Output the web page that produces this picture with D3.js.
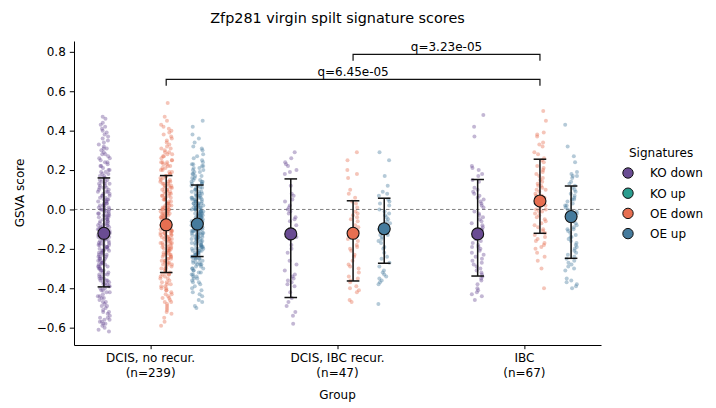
<!DOCTYPE html>
<html><head><meta charset="utf-8">
<script src="https://cdn.jsdelivr.net/npm/d3@7"></script>
<style>body{margin:0;background:#fff;} svg text{font-family:"DejaVu Sans",sans-serif;}</style>
</head><body><svg id="c" width="716" height="408"></svg>
<script>
const title = "Zfp281 virgin spilt signature scores";
const groups = ["DCIS, no recur.", "DCIS, IBC recur.", "IBC"];
const groupN = [239, 47, 67];
const signatures = ["KO down", "KO up", "OE down", "OE up"];
const sigColors = ["#6a4c93", "#2a9d8f", "#e76f51", "#457b9d"];
const yTicks = [-0.6, -0.4, -0.2, 0.0, 0.2, 0.4, 0.6, 0.8];

// GSVA scores per sample, in hundredths
const noRecurKOdown = [-62,-61,-60,-59,-58,-58,-57,-57,-56,-56,
-55,-55,-54,-53,-52,-52,-51,-50,-49,-49,-48,-47,-47,-46,
-45,-45,-44,-44,-43,-42,-42,-41,-41,-40,-40,-39,-39,-38,-38,-38,-37,-37,-36,-36,-36,
-35,-35,-35,-34,-34,-33,-33,-33,-32,-32,-31,-31,-31,-30,-30,-30,-29,-29,-29,-28,-28,-28,-27,-27,-27,-26,-26,-26,
-25,-25,-25,-24,-24,-24,-23,-23,-23,-22,-22,-22,-21,-21,-21,-21,-20,-20,-20,-19,-19,-19,-18,-18,-18,-18,-17,-17,-17,-16,-16,-16,
-15,-15,-15,-14,-14,-14,-14,-13,-13,-13,-12,-12,-12,-12,-11,-11,-11,-10,-10,-10,-10,-9,-9,-9,-8,-8,-8,-8,-7,-7,-7,-6,-6,-6,
-5,-5,-5,-4,-4,-4,-3,-3,-3,-3,-2,-2,-2,-1,-1,-1,0,0,0,0,1,1,1,2,2,2,3,3,3,4,4,4,
5,5,5,6,6,7,7,7,8,8,9,9,9,10,10,11,11,11,12,12,13,13,13,14,14,
15,15,16,16,17,17,18,18,19,19,20,20,21,22,22,23,24,24,
25,26,26,27,28,28,29,30,31,31,32,33,34,
35,36,37,38,39,40,41,42,43,44,46,47];
const noRecurKOup = [];
const noRecurOEdown = [-59,-57,-55,-53,-52,-51,-50,-49,-48,-47,-47,-46,
-45,-45,-44,-43,-43,-42,-41,-41,-40,-40,-39,-39,-38,-38,-37,-37,-36,
-35,-35,-34,-34,-33,-33,-33,-32,-32,-31,-31,-30,-30,-30,-29,-29,-28,-28,-28,-27,-27,-27,-26,-26,-26,
-25,-25,-25,-24,-24,-24,-23,-23,-23,-23,-22,-22,-22,-21,-21,-21,-20,-20,-20,-20,-19,-19,-19,-18,-18,-18,-17,-17,-17,-17,-16,-16,-16,
-15,-15,-15,-15,-14,-14,-14,-14,-13,-13,-13,-13,-12,-12,-12,-12,-11,-11,-11,-11,-10,-10,-10,-10,-9,-9,-9,-9,-8,-8,-8,-7,-7,-7,-7,-6,-6,-6,
-5,-5,-5,-5,-4,-4,-4,-4,-3,-3,-3,-3,-2,-2,-2,-2,-1,-1,-1,-1,0,0,0,0,1,1,1,1,2,2,2,3,3,3,4,4,
5,5,5,6,6,6,7,7,7,8,8,8,9,9,9,10,10,10,11,11,11,12,12,12,13,13,13,14,14,14,
15,15,16,16,17,17,18,18,19,19,20,20,21,21,22,22,23,23,24,24,24,
25,25,26,27,27,28,28,29,29,30,31,31,32,33,34,
35,36,37,38,39,40,41,42,43,45,47,54];
const noRecurOEup = [-50,-49,-47,-46,
-44,-43,-42,-41,-40,-39,-38,-37,-37,-36,
-35,-35,-34,-34,-33,-33,-32,-32,-31,-31,-30,-30,-30,-29,-29,-28,-28,-28,-27,-27,-27,-26,-26,
-25,-25,-25,-25,-24,-24,-24,-24,-23,-23,-23,-23,-22,-22,-22,-22,-21,-21,-21,-21,-20,-20,-20,-20,-19,-19,-19,-19,-18,-18,-18,-18,-17,-17,-17,-17,-16,-16,-16,-16,
-15,-15,-15,-15,-15,-14,-14,-14,-14,-14,-13,-13,-13,-13,-13,-12,-12,-12,-12,-12,-11,-11,-11,-11,-11,-10,-10,-10,-10,-10,-9,-9,-9,-9,-9,-8,-8,-8,-8,-8,-7,-7,-7,-7,-7,-6,-6,-6,-6,-6,
-5,-5,-5,-5,-4,-4,-4,-4,-4,-3,-3,-3,-3,-3,-2,-2,-2,-2,-2,-1,-1,-1,-1,-1,0,0,0,0,0,1,1,1,1,1,2,2,2,2,2,3,3,3,3,3,4,4,4,4,
5,5,5,5,6,6,6,6,7,7,7,7,8,8,8,9,9,9,10,10,10,11,11,11,12,12,12,13,13,13,14,14,14,
15,15,16,16,17,17,18,18,19,19,20,20,21,21,22,22,23,23,24,
25,26,27,28,30,31,32,34,
36,38,42,45];

const ibcRecurKOdown = [29,26,24,23,22,20,19,18,12,8,7,5,4,2,1,0,-1,-2,-4,-5,-6,-8,-10,-11,-12,-14,-15,-18,-20,-22,-26,-28,-31,-33,-34,-35,-36,-37,-38,-39,-42,-45,-47,-49,-52,-54,-58];
const ibcRecurKOup = [];
const ibcRecurOEdown = [29,25,20,18,16,10,8,6,4,3,1,-1,-2,-3,-4,-5,-6,-8,-9,-10,-11,-12,-13,-14,-15,-16,-18,-19,-20,-21,-23,-24,-26,-28,-29,-30,-32,-34,-35,-36,-37,-39,-40,-41,-42,-46,-47];
const ibcRecurOEup = [29,25,17,12,9,8,7,5,4,3,2,0,-1,-2,-3,-4,-5,-6,-7,-8,-9,-10,-10,-11,-12,-13,-13,-14,-15,-16,-17,-19,-20,-22,-24,-25,-27,-29,-31,-32,-33,-34,-35,-36,-37,-38,-48];

const ibcKOdown = [48,42,37,22,21,20,18,17,15,14,11,10,9,8,7,6,5,4,2,1,
-1,-2,-4,-5,-6,-7,-9,-10,-11,-12,-13,-14,-15,-16,-17,-18,-19,
-20,-21,-22,-23,-24,-25,-27,-28,-29,-30,-31,-32,-33,-34,-35,-36,
-38,-40,-41,-42,-43,-44,-46,-3,-8,-12,-15,-19,3,-26];
const ibcKOup = [];
const ibcOEdown = [50,45,39,38,37,34,33,32,29,28,26,25,24,22,21,20,19,18,17,16,
14,13,12,12,11,10,9,8,7,7,6,5,4,3,3,2,1,0,-1,-1,
-2,-3,-4,-5,-6,-7,-8,-9,-10,-11,-12,-13,-14,-15,-16,-17,-18,-19,-20,-22,
-24,-26,-30,-40,10,15,0];
const ibcOEup = [43,32,27,24,19,18,17,17,16,14,13,12,11,10,9,8,7,6,5,4,
3,2,1,0,-1,-2,-3,-4,-5,-6,-7,-8,-9,-10,-11,-12,-13,-14,-15,-16,
-17,-18,-19,-20,-21,-22,-23,-24,-25,-26,-27,-28,-29,-30,-31,-35,-36,-37,-38,-39,
-40,5,-2,-6,-10,2,-14];

// mean and mean ± SD per group
const meanKOdown = [-0.121, -0.124, -0.124];
const loKOdown   = [-0.393, -0.447, -0.338];
const hiKOdown   = [0.160, 0.155, 0.152];
const meanOEdown = [-0.078, -0.121, 0.043];
const loOEdown   = [-0.320, -0.363, -0.121];
const hiOEdown   = [0.172, 0.044, 0.255];
const meanOEup   = [-0.074, -0.098, -0.036];
const loOEup     = [-0.239, -0.273, -0.248];
const hiOEup     = [0.124, 0.057, 0.119];

// significance brackets (OE down)
const qLabels = ["q=6.45e-05", "q=3.23e-05"];
const qFrom = [0, 1];
const qTo = [2, 2];
const qLevel = [0.660, 0.787];

const scores = [
  [noRecurKOdown, noRecurKOup, noRecurOEdown, noRecurOEup],
  [ibcRecurKOdown, ibcRecurKOup, ibcRecurOEdown, ibcRecurOEup],
  [ibcKOdown, ibcKOup, ibcOEdown, ibcOEup]
];
const summary = [
  [meanKOdown, loKOdown, hiKOdown, 0],
  [meanOEdown, loOEdown, hiOEdown, 2],
  [meanOEup, loOEup, hiOEup, 3]
];

const svg = d3.select("#c");
const x = d3.scaleLinear().domain([-0.41, 2.41]).range([74, 601]);
const y = d3.scaleLinear().domain([-0.688, 0.855]).range([345, 41]);
const hueOff = d3.scalePoint().domain(signatures).range([-0.25, 0.25]);
const px = (g, s) => x(g + hueOff(s));

function jit(i, k) {
  const s = Math.sin((i + 1) * 12.9898 + k * 78.233) * 43758.5453;
  return (s - Math.floor(s)) * 2 - 1;
}

// zero line
svg.append("line").attr("x1", 74).attr("x2", 601)
  .attr("y1", y(0)).attr("y2", y(0))
  .attr("stroke", "#808080").attr("stroke-width", 1).attr("stroke-dasharray", "3.5,2.5");

// strip points
scores.forEach((row, g) => {
  row.forEach((vals, si) => {
    const cx0 = px(g, signatures[si]);
    svg.append("g").selectAll("circle").data(vals).join("circle")
      .attr("cx", (d, i) => cx0 + jit(i, g * 4 + si) * 6)
      .attr("cy", d => y(d / 100))
      .attr("r", 2)
      .attr("fill", sigColors[si])
      .attr("fill-opacity", 0.4);
  });
});

// error bars & means
summary.forEach(([m, lo, hi, si]) => {
  groups.forEach((gname, g) => {
    const cx = px(g, signatures[si]);
    const eg = svg.append("g").attr("stroke", "#111").attr("stroke-width", 1.5);
    eg.append("line").attr("x1", cx).attr("x2", cx).attr("y1", y(lo[g])).attr("y2", y(hi[g]));
    eg.append("line").attr("x1", cx - 6.3).attr("x2", cx + 6.3).attr("y1", y(lo[g])).attr("y2", y(lo[g]));
    eg.append("line").attr("x1", cx - 6.3).attr("x2", cx + 6.3).attr("y1", y(hi[g])).attr("y2", y(hi[g]));
    svg.append("circle").attr("cx", cx).attr("cy", y(m[g])).attr("r", 6)
      .attr("fill", sigColors[si]).attr("stroke", "#111").attr("stroke-width", 1.1);
  });
});

// axes
const yAxis = svg.append("g").attr("transform", "translate(74,0)")
  .call(d3.axisLeft(y).tickValues(yTicks).tickSize(4.2).tickSizeOuter(0).tickPadding(4)
    .tickFormat(d3.format(".1f")));
const xAxis = svg.append("g").attr("transform", "translate(0,345)")
  .call(d3.axisBottom(x).tickValues([0, 1, 2]).tickSize(4.2).tickSizeOuter(0).tickFormat(""));
[yAxis, xAxis].forEach(a => {
  a.selectAll("path,line").attr("stroke", "#000").attr("stroke-width", 1);
  a.selectAll("text").attr("fill", "#000").attr("font-size", 12).attr("font-family", "DejaVu Sans");
});
groups.forEach((gname, g) => {
  const t = svg.append("text").attr("x", x(g)).attr("text-anchor", "middle")
    .attr("font-size", 12).attr("fill", "#000");
  t.append("tspan").attr("x", x(g)).attr("y", 362).text(gname);
  t.append("tspan").attr("x", x(g)).attr("y", 377).text(`(n=${groupN[g]})`);
});

// labels
svg.append("text").attr("x", 337.5).attr("y", 399).attr("text-anchor", "middle")
  .attr("font-size", 12).attr("fill", "#000").text("Group");
svg.append("text").attr("transform", "translate(24,193) rotate(-90)").attr("text-anchor", "middle")
  .attr("font-size", 12).attr("fill", "#000").text("GSVA score");
svg.append("text").attr("x", 337.5).attr("y", 23).attr("text-anchor", "middle")
  .attr("font-size", 14.4).attr("fill", "#000").text(title);

// brackets
qLabels.forEach((lab, k) => {
  const x1 = px(qFrom[k], "OE down"), x2 = px(qTo[k], "OE down");
  const yy = y(qLevel[k]), yb = y(qLevel[k] - 0.032);
  svg.append("path").attr("d", `M${x1},${yb}L${x1},${yy}L${x2},${yy}L${x2},${yb}`)
    .attr("fill", "none").attr("stroke", "#111").attr("stroke-width", 1.2);
  svg.append("text").attr("x", (x1 + x2) / 2).attr("y", yy - 3.5).attr("text-anchor", "middle")
    .attr("font-size", 12).attr("fill", "#000").text(lab);
});

// legend
svg.append("text").attr("x", 629).attr("y", 157).attr("font-size", 12).attr("fill", "#000").text("Signatures");
signatures.forEach((s, i) => {
  const ly = 173 + i * 20.2;
  svg.append("circle").attr("cx", 628).attr("cy", ly).attr("r", 5.2)
    .attr("fill", sigColors[i]).attr("stroke", "#111").attr("stroke-width", 1);
  svg.append("text").attr("x", 650).attr("y", ly + 4.3).attr("font-size", 12).attr("fill", "#000").text(s);
});
</script></body></html>
